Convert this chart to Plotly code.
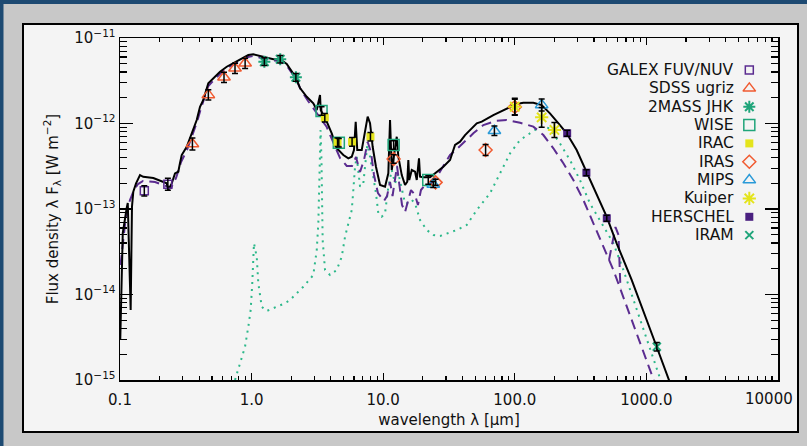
import numpy as np
import plotly.graph_objects as go

# ---------------- photometry (wavelength in micron, lambda*F_lambda in W m^-2) -------------
galex_lam = [0.153, 0.231]
galex_flux = [1.63e-13, 1.95e-13]
galex_err = [0.06, 0.07]          # half length of error bars, dex

sdss_lam = [0.355, 0.469, 0.617, 0.748, 0.893]
sdss_flux = [5.75e-13, 2.16e-12, 3.47e-12, 4.42e-12, 5.06e-12]
sdss_err = [0.07, 0.06, 0.06, 0.06, 0.06]

tmass_lam = [1.25, 1.65, 2.17]
tmass_flux = [5.28e-12, 5.64e-12, 3.47e-12]
tmass_err = [0.045, 0.045, 0.045]

wise_lam = [3.4, 4.6, 12.0, 22.0]
wise_flux = [1.40e-12, 5.96e-13, 5.6e-13, 2.18e-13]
wise_err = [0.05, 0.05, 0.05, 0.05]

irac_lam = [3.6, 4.5, 5.8, 8.0]
irac_flux = [1.17e-12, 6.05e-13, 6.1e-13, 7.0e-13]
irac_err = [0.05, 0.05, 0.05, 0.05]

iras_lam = [12.0, 25.0, 60.0, 100.0]
iras_flux = [3.85e-13, 2.05e-13, 4.9e-13, 1.56e-12]
iras_err = [0.05, 0.035, 0.065, 0.09]

mips_lam = [24.0, 70.0, 160.0]
mips_flux = [1.94e-13, 8.24e-13, 1.65e-12]
mips_err = [0.035, 0.055, 0.07]

kuiper_lam = [100.0, 160.0, 200.0]
kuiper_flux = [1.57e-12, 1.18e-12, 8.4e-13]
kuiper_err = [0.1, 0.115, 0.088]

herschel_lam = [250.0, 350.0, 500.0]
herschel_flux = [7.68e-13, 2.66e-13, 7.78e-14]
herschel_err = [0.035, 0.035, 0.035]

iram_lam = [1200.0]
iram_flux = [2.45e-15]
iram_err = [0.05]

# ---------------- model curves (log10 wavelength [micron], log10 flux [W m^-2]) ------------
total_loglam = [
    -0.998, -0.987, -0.979, -0.949, -0.941, -0.919, -0.909, -0.899, -0.878, -0.848,
    -0.823, -0.747, -0.696, -0.645, -0.633, -0.607, -0.582, -0.557, -0.544, -0.531,
    -0.493, -0.455, -0.417, -0.392, -0.367, -0.329, -0.291, -0.240, -0.189, -0.139,
    -0.088, -0.025, 0.013, 0.089, 0.165, 0.216, 0.267, 0.335, 0.368, 0.419,
    0.469, 0.495, 0.520, 0.525, 0.571, 0.609, 0.647, 0.697, 0.735, 0.761,
    0.778, 0.791, 0.803, 0.837, 0.862, 0.882, 0.900, 0.920, 0.945, 0.976,
    1.014, 1.039, 1.052, 1.065, 1.090, 1.103, 1.115, 1.141, 1.166, 1.183,
    1.191, 1.198, 1.217, 1.242, 1.255, 1.272, 1.280, 1.305, 1.356, 1.407,
    1.457, 1.508, 1.546, 1.584, 1.622, 1.711, 1.749, 1.837, 1.938, 2.014,
    2.065, 2.141, 2.204, 2.267, 2.343, 2.394, 2.470, 2.539, 2.622, 2.698,
    2.774, 2.888, 3.078, 3.217]
total_logflux = [
    -14.53, -13.597, -13.281, -12.988, -12.930, -14.182, -12.973, -12.798, -12.700, -12.603,
    -12.623, -12.638, -12.669, -12.700, -12.778, -12.700, -12.583, -12.564, -12.462, -12.369,
    -12.272, -12.115, -11.959, -11.804, -11.725, -11.530, -11.472, -11.394, -11.336, -11.296,
    -11.257, -11.199, -11.191, -11.219, -11.249, -11.249, -11.304, -11.460, -11.585, -11.687,
    -11.764, -11.842, -11.667, -11.842, -11.979, -12.115, -12.290, -12.368, -12.407, -12.389,
    -12.310, -11.979, -12.310, -12.310, -12.076, -11.920, -11.997, -12.272, -12.506, -12.720,
    -12.739, -12.582, -11.959, -12.544, -12.290, -12.155, -12.388, -12.603, -12.720, -12.681,
    -12.427, -12.661, -12.544, -12.564, -12.661, -12.407, -12.622, -12.629, -12.629, -12.564,
    -12.505, -12.427, -12.251, -12.213, -12.135, -11.998, -11.979, -11.901, -11.822, -11.772,
    -11.757, -11.757, -11.784, -11.881, -12.018, -12.115, -12.310, -12.544, -12.817, -13.090,
    -13.401, -13.830, -14.611, -15.19]

compA_loglam = [
    -0.996, -0.977, -0.954, -0.924, -0.894, -0.863, -0.825, -0.734, -0.650, -0.612,
    -0.574, -0.536, -0.491, -0.453, -0.415, -0.384, -0.329, -0.286, -0.233, -0.187,
    -0.134, -0.081, -0.027, 0.011, 0.087, 0.163, 0.216, 0.269, 0.337, 0.375,
    0.429, 0.474, 0.520, 0.571, 0.619, 0.672, 0.723, 0.763, 0.793, 0.824,
    0.854, 0.882, 0.907, 0.930, 0.960, 1.006, 1.029, 1.052, 1.071, 1.090,
    1.105, 1.124, 1.143, 1.166, 1.188, 1.211, 1.242, 1.264, 1.287, 1.318,
    1.356, 1.407, 1.457, 1.508, 1.584, 1.685, 1.761, 1.862, 1.938, 2.040,
    2.141, 2.217, 2.293, 2.369, 2.445, 2.521, 2.597, 2.673, 2.749, 3.050,
    3.073]
compA_logflux = [
    -13.655, -13.363, -13.070, -12.895, -12.778, -12.708, -12.672, -12.684, -12.731, -12.754,
    -12.637, -12.450, -12.310, -12.146, -11.982, -11.819, -11.561, -11.491, -11.409, -11.351,
    -11.304, -11.269, -11.222, -11.211, -11.234, -11.263, -11.269, -11.327, -11.480, -11.608,
    -11.737, -11.830, -11.924, -12.041, -12.216, -12.404, -12.497, -12.497, -12.392, -12.567,
    -12.427, -12.216, -12.333, -12.602, -12.813, -12.906, -12.848, -12.684, -12.848, -12.637,
    -12.497, -12.731, -12.953, -13.035, -12.895, -12.778, -12.836, -12.953, -12.778, -12.719,
    -12.708, -12.626, -12.497, -12.368, -12.263, -12.115, -12.018, -11.967, -11.959, -11.991,
    -12.037, -12.135, -12.290, -12.465, -12.661, -12.895, -13.167, -13.441, -13.713, -14.977,
    -15.09]

compB_loglam = [2.716, 2.765, 2.788, 2.803]
compB_logflux = [-13.596, -13.211, -13.304, -13.936]

compC_loglam = [
    -0.126, -0.088, -0.050, -0.025, -0.007, 0.005, 0.013, 0.018, 0.039, 0.051,
    0.077, 0.115, 0.191, 0.254, 0.292, 0.393, 0.469, 0.495, 0.507, 0.514,
    0.520, 0.524, 0.531, 0.540, 0.558, 0.596, 0.647, 0.685, 0.710, 0.735,
    0.761, 0.773, 0.786, 0.799, 0.824, 0.849, 0.862, 0.879, 0.900, 0.925,
    0.945, 0.963, 0.989, 1.014, 1.039, 1.065, 1.090, 1.115, 1.141, 1.166,
    1.191, 1.217, 1.242, 1.280, 1.331, 1.381, 1.432, 1.495, 1.559, 1.635,
    1.711, 1.812, 1.888, 1.964, 2.040, 2.128, 2.191, 2.267, 2.343, 2.419,
    2.495, 2.571, 2.647, 2.749, 2.825, 3.103, 3.119]
compC_logflux = [
    -15.000, -14.805, -14.611, -14.377, -14.181, -13.869, -13.558, -13.401, -13.558, -13.869,
    -14.143, -14.193, -14.143, -14.103, -14.064, -13.909, -13.772, -13.480, -13.168, -12.778,
    -12.388, -12.076, -12.427, -13.363, -13.713, -13.772, -13.713, -13.558, -13.324, -13.167,
    -13.012, -12.778, -12.505, -12.388, -12.739, -12.699, -12.505, -12.251, -12.388, -12.622,
    -12.816, -13.050, -13.090, -13.050, -12.739, -12.544, -12.699, -12.582, -12.778, -12.933,
    -12.933, -12.895, -12.933, -13.129, -13.246, -13.304, -13.316, -13.284, -13.246, -13.187,
    -13.012, -12.816, -12.582, -12.349, -12.193, -12.096, -12.037, -12.056, -12.232, -12.427,
    -12.661, -12.933, -13.129, -13.401, -13.713, -14.961, -15.05]

# ---------------- axis ticks & legend ----------------
x_tickvals = [0.1, 1, 10, 100, 1000, 10000]
x_ticktext = ["0.1", "1.0", "10.0", "100.0", "1000.0", "10000"]
y_tickvals = [1e-15, 1e-14, 1e-13, 1e-12, 1e-11]
y_ticktext = ["10<sup>\u221215</sup>", "10<sup>\u221214</sup>", "10<sup>\u221213</sup>",
              "10<sup>\u221212</sup>", "10<sup>\u221211</sup>"]

legend_labels = ["GALEX FUV/NUV", "SDSS ugriz", "2MASS JHK", "WISE", "IRAC",
                 "IRAS", "MIPS", "Kuiper", "HERSCHEL", "IRAM"]

PURPLE = "#5b2c90"
RED = "#f05a30"
GREEN = "#1fa57a"
YELLOW = "#e4e41c"
BLUE = "#2a9ad8"
HPURPLE = "#4a2080"
DOTGREEN = "#2cb88a"

FONT = "DejaVu Sans"

styles = [
    # symbol, color, size, line width
    ("square-open", PURPLE, 8, 1.5),
    ("triangle-up-open", RED, 11, 1.5),
    ("asterisk-open", GREEN, 10, 2),
    ("square-open", GREEN, 11, 1.5),
    ("square", YELLOW, 8, 0),
    ("diamond-open", RED, 10, 1.5),
    ("triangle-up-open", BLUE, 11, 1.5),
    ("asterisk-open", YELLOW, 11, 2),
    ("square", HPURPLE, 8, 0),
    ("x-thin-open", GREEN, 8, 2),
]
datasets = [
    (galex_lam, galex_flux, galex_err),
    (sdss_lam, sdss_flux, sdss_err),
    (tmass_lam, tmass_flux, tmass_err),
    (wise_lam, wise_flux, wise_err),
    (irac_lam, irac_flux, irac_err),
    (iras_lam, iras_flux, iras_err),
    (mips_lam, mips_flux, mips_err),
    (kuiper_lam, kuiper_flux, kuiper_err),
    (herschel_lam, herschel_flux, herschel_err),
    (iram_lam, iram_flux, iram_err),
]

fig = go.Figure()

# model curves
fig.add_trace(go.Scatter(x=10 ** np.array(compC_loglam), y=10 ** np.array(compC_logflux),
                         mode="lines", line=dict(color=DOTGREEN, width=2, dash="2px,5px"),
                         showlegend=False, hoverinfo="skip"))
fig.add_trace(go.Scatter(x=10 ** np.array(compA_loglam), y=10 ** np.array(compA_logflux),
                         mode="lines", line=dict(color=PURPLE, width=2, dash="10px,6px"),
                         showlegend=False, hoverinfo="skip"))
fig.add_trace(go.Scatter(x=10 ** np.array(compB_loglam), y=10 ** np.array(compB_logflux),
                         mode="lines", line=dict(color=PURPLE, width=2, dash="10px,6px"),
                         showlegend=False, hoverinfo="skip"))
fig.add_trace(go.Scatter(x=10 ** np.array(total_loglam), y=10 ** np.array(total_logflux),
                         mode="lines", line=dict(color="black", width=2),
                         showlegend=False, hoverinfo="skip"))

# photometric markers
for (lam, flux, err), (sym, col, size, lw) in zip(datasets, styles):
    fig.add_trace(go.Scatter(
        x=lam, y=flux, mode="markers",
        marker=dict(symbol=sym, size=size, color=col, line=dict(color=col, width=lw)),
        showlegend=False, hoverinfo="skip"))

# error bars on top
for lam, flux, err in datasets:
    f = np.array(flux)
    e = np.array(err)
    fig.add_trace(go.Scatter(
        x=lam, y=flux, mode="markers",
        marker=dict(size=1, color="rgba(0,0,0,0)"),
        error_y=dict(type="data", symmetric=False, array=f * (10 ** e - 1),
                     arrayminus=f * (1 - 10 ** (-e)), color="black", thickness=1.5, width=3),
        showlegend=False, hoverinfo="skip"))

# legend keys on an overlay axis (0..1 across the plot area)
n = len(legend_labels)
key_x = [0.9564] * n
key_y = [0.9064 - 0.05365 * i for i in range(n)]
for i, (sym, col, size, lw) in enumerate(styles):
    fig.add_trace(go.Scatter(
        x=[key_x[i]], y=[key_y[i]], xaxis="x2", yaxis="y2", mode="markers",
        marker=dict(symbol=sym, size=size, color=col, line=dict(color=col, width=lw)),
        showlegend=False, hoverinfo="skip", cliponaxis=False))

W, H = 807, 446
ml, mr, mt, mb = 120, 29, 38, 66
pw, ph = W - ml - mr, H - mt - mb


def px2paper_x(px):
    return (px - ml) / pw


def px2paper_y(py):
    return (H - mb - py) / ph


annotations = []
for i, lab in enumerate(legend_labels):
    annotations.append(dict(
        x=0.9362, y=key_y[i], xref="paper", yref="paper", text=lab, showarrow=False,
        xanchor="right", yanchor="middle", font=dict(family=FONT, size=15.5, color="#111")))

# last x tick label is pulled inside the frame (as in the original figure)
tick_labels_shown = list(x_ticktext)
last_label = tick_labels_shown[-1]
tick_labels_shown[-1] = ""
annotations.append(dict(
    x=px2paper_x(795), y=px2paper_y(399), xref="paper", yref="paper", text=last_label,
    showarrow=False, xanchor="right", yanchor="middle",
    font=dict(family=FONT, size=15, color="#111")))

GRAY = "#c8c8c8"
shapes = [
    dict(type="rect", xref="paper", yref="paper",
         x0=px2paper_x(23), x1=px2paper_x(798), y0=px2paper_y(432), y1=px2paper_y(24),
         fillcolor="#f4f4f4", line=dict(color="black", width=2), layer="below"),
    dict(type="rect", xref="paper", yref="paper",
         x0=px2paper_x(-2), x1=px2paper_x(3.5), y0=px2paper_y(450), y1=px2paper_y(-2),
         fillcolor="#1d4a72", line=dict(width=0), layer="below"),
    dict(type="rect", xref="paper", yref="paper",
         x0=px2paper_x(-2), x1=px2paper_x(807), y0=px2paper_y(4), y1=px2paper_y(-2),
         fillcolor="#1d4a72", line=dict(width=0), layer="below"),
    # gray margin at the right edge
    dict(type="rect", xref="paper", yref="paper",
         x0=px2paper_x(799.5), x1=px2paper_x(812), y0=px2paper_y(450), y1=px2paper_y(4),
         fillcolor=GRAY, line=dict(width=0), layer="above"),
]

fig.update_layout(
    width=W, height=H,
    margin=dict(l=ml, r=mr, t=mt, b=mb, pad=0),
    paper_bgcolor=GRAY,
    plot_bgcolor="#f4f4f4",
    font=dict(family=FONT, size=15, color="#111"),
    showlegend=False,
    hovermode=False,
    shapes=shapes,
    annotations=annotations,
    xaxis=dict(
        type="log", range=[-1, 4], tickmode="array", tickvals=x_tickvals,
        ticktext=tick_labels_shown,
        ticks="inside", ticklen=7, tickwidth=1.3, tickcolor="black",
        minor=dict(ticks="inside", ticklen=4, tickwidth=1.1, tickcolor="black", dtick="D1",
                   showgrid=False),
        showline=True, linecolor="black", linewidth=1.5, mirror="ticks",
        showgrid=False, zeroline=False, ticklabelstandoff=5,
        tickfont=dict(family=FONT, size=15),
        title=dict(text="wavelength \u03bb [\u03bcm]", font=dict(family=FONT, size=15), standoff=7),
    ),
    yaxis=dict(
        type="log", range=[-15, -11], tickmode="array", tickvals=y_tickvals, ticktext=y_ticktext,
        ticks="inside", ticklen=13, tickwidth=1.3, tickcolor="black",
        minor=dict(ticks="inside", ticklen=7, tickwidth=1.1, tickcolor="black", dtick="D1",
                   showgrid=False),
        showline=True, linecolor="black", linewidth=1.5, mirror="ticks",
        showgrid=False, zeroline=False,
        tickfont=dict(family=FONT, size=15),
        title=dict(text="Flux density \u03bb F<sub>\u03bb</sub> [W m<sup>\u22122</sup>]",
                   font=dict(family=FONT, size=15), standoff=12),
    ),
    xaxis2=dict(overlaying="x", range=[0, 1], visible=False, anchor="y2"),
    yaxis2=dict(overlaying="y", range=[0, 1], visible=False, anchor="x2"),
)

fig.write_html(
    "out.html",
    config={"displayModeBar": False, "staticPlot": True},
    post_script="document.body.style.margin='0';document.body.style.padding='0';"
                "document.body.style.overflow='hidden';"
                "document.documentElement.style.overflow='hidden';",
)
